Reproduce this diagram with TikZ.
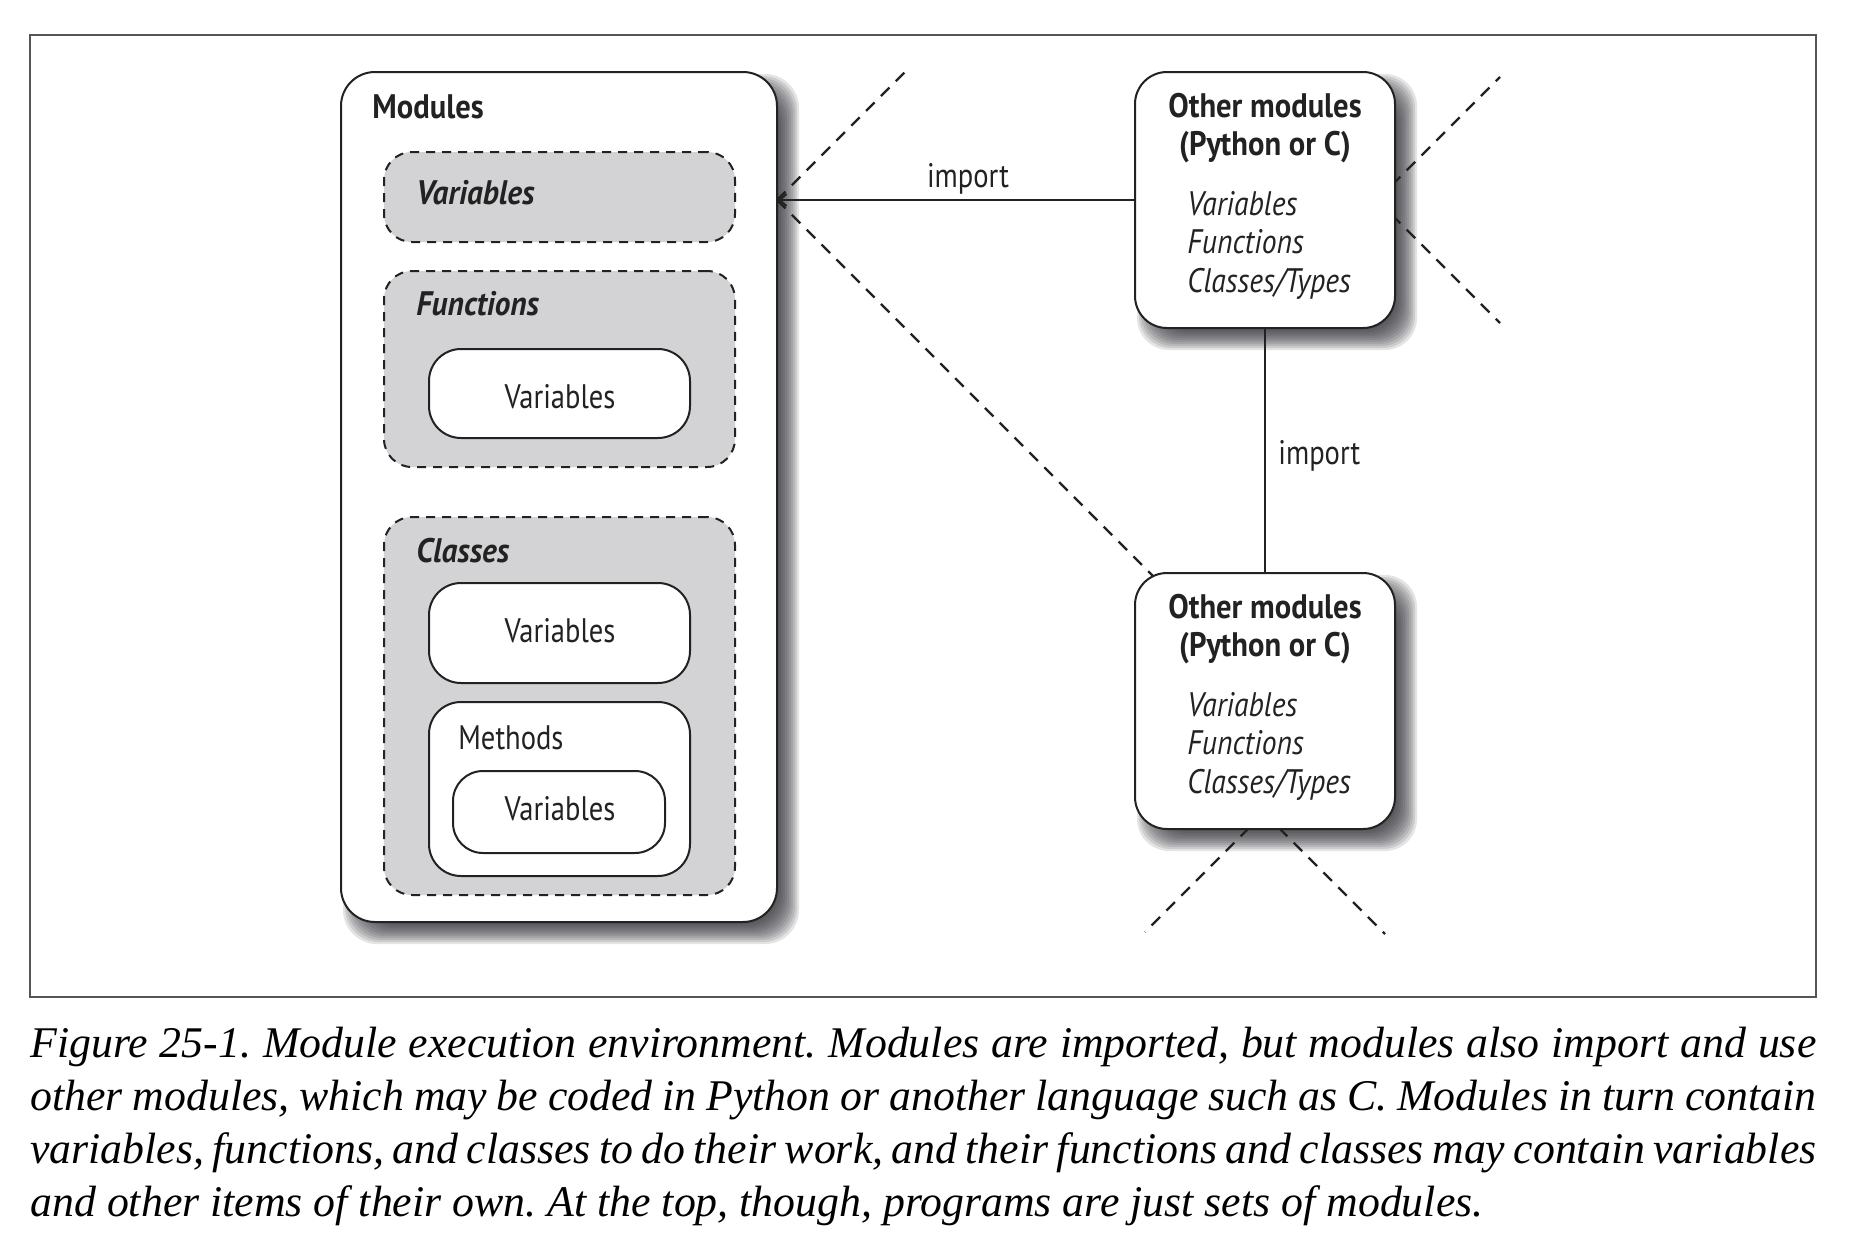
\documentclass[tikz,border=0pt]{standalone}
\usepackage{fontspec}
\setmainfont{PT Sans}[FakeStretch=0.84,
  ItalicFeatures={FakeStretch=0.87},
  BoldFeatures={FakeStretch=0.9},
  BoldItalicFeatures={FakeStretch=0.92}]
\newfontfamily\capfont{Liberation Serif}
\usetikzlibrary{arrows.meta,fit}
\definecolor{boxgray}{HTML}{D3D3D5}
\definecolor{framegray}{HTML}{555555}
\definecolor{shadowcol}{HTML}{303036}
\definecolor{inkc}{HTML}{222222}
\newcommand\myshadow[5]{%
  \foreach \e in {-10,-8,...,10}{%
    \fill[shadowcol, opacity=0.13, rounded corners=#5]
      ({#1+12+\e},{#2+12+\e}) rectangle ({#3+12-\e},{#4+12-\e});
  }}
\begin{document}
\frenchspacing
\begin{tikzpicture}[x=0.5pt,y=-0.5pt,
  solidbox/.style={draw=inkc, line width=1pt, fill=white, rounded corners=17pt, inner sep=0pt},
  innerbox/.style={draw=inkc, line width=1pt, fill=white, rounded corners=16pt, inner sep=0pt},
  dashbox/.style={draw=inkc, line width=1pt, fill=boxgray, dash pattern=on 4.5pt off 3.5pt, rounded corners=14pt, inner sep=0pt},
  guide/.style={draw=inkc, line width=1.1pt, dash pattern=on 6pt off 4.5pt},
  link/.style={draw=inkc, line width=1pt},
  tx/.style={inner sep=0pt, text=inkc, font=\fontsize{17}{20}\selectfont},
  txb/.style={inner sep=0pt, text=inkc, font=\fontsize{17}{20}\selectfont\bfseries},
  txbi/.style={inner sep=0pt, text=inkc, font=\fontsize{17}{20}\selectfont\bfseries\itshape},
  txi/.style={inner sep=0pt, text=inkc, font=\fontsize{17}{20}\selectfont\itshape},
  captx/.style={inner sep=0pt, anchor=base west, text=black, font=\capfont\itshape\fontsize{21.9}{26}\selectfont}
]
\useasboundingbox (0,0) rectangle (1858,1242);
\fill[white] (0,0) rectangle (1858,1242);
% frame
\node[draw=framegray, line width=0.75pt, inner sep=0pt, fit={(30,35) (1816,997)}] (frame) {};

% shadows
\myshadow{341}{72}{777}{922}{17pt}
\myshadow{1135}{72}{1395}{328}{16pt}
\myshadow{1135}{573}{1395}{829}{16pt}

% guide line anchor points
\coordinate (tipL) at (777,200);
\coordinate (gUL) at (905,72);
\coordinate (gLL) at (1200,623);
\coordinate (cR) at (1377,200);
\coordinate (gUR) at (1500,77);
\coordinate (gLR) at (1500,323);
\coordinate (cB) at (1264,813);
\coordinate (gBL) at (1145,932);
\coordinate (gBR) at (1385,934);
\draw[guide] (tipL) -- (gUL);
\draw[guide] (tipL) -- (gLL);
\draw[guide] (cR) -- (gUR);
\draw[guide] (cR) -- (gLR);
\draw[guide] (cB) -- (gBL);
\draw[guide] (cB) -- (gBR);

% Modules box
\node[solidbox, fit={(341,72) (777,922)}] (mod) {};
\node[txb, anchor=base west] (modt) at (372,118) {Modules};
\node[dashbox, fit={(384,152) (735,242)}] (varbox) {};
\node[txbi, anchor=base west] (vart) at (416,204) {Variables};
\node[dashbox, fit={(384,271) (735,467)}] (funbox) {};
\node[txbi, anchor=base west] (funt) at (416,315) {Functions};
\node[innerbox, fit={(429,349) (690,438)}] (funvar) {};
\node[tx, anchor=base] (funvart) at (560,408) {Variables};
\node[dashbox, fit={(384,517) (735,895)}] (clsbox) {};
\node[txbi, anchor=base west] (clst) at (416,562) {Classes};
\node[innerbox, fit={(429,583) (690,683)}] (clsvar) {};
\node[tx, anchor=base] (clsvart) at (560,642) {Variables};
\node[innerbox, fit={(429,702) (690,876)}] (meth) {};
\node[tx, anchor=base west] (metht) at (458,749) {Methods};
\node[innerbox, rounded corners=15pt, fit={(453,771) (665,853)}] (methvar) {};
\node[tx, anchor=base] (methvart) at (560,820) {Variables};

% Other modules (top)
\node[solidbox, rounded corners=16pt, fit={(1135,72) (1395,328)}] (om1) {};
\node[txb, anchor=base] (om1a) at (1265,117) {Other modules};
\node[txb, anchor=base] (om1b) at (1265,155) {(Python or C)};
\node[txi, anchor=base west] (om1c) at (1187,215) {Variables};
\node[txi, anchor=base west] (om1d) at (1187,253) {Functions};
\node[txi, anchor=base west] (om1e) at (1187,292) {Classes/Types};

% Other modules (bottom)
\node[solidbox, rounded corners=16pt, fit={(1135,573) (1395,829)}] (om2) {};
\node[txb, anchor=base] (om2a) at (1265,618) {Other modules};
\node[txb, anchor=base] (om2b) at (1265,656) {(Python or C)};
\node[txi, anchor=base west] (om2c) at (1187,716) {Variables};
\node[txi, anchor=base west] (om2d) at (1187,754) {Functions};
\node[txi, anchor=base west] (om2e) at (1187,793) {Classes/Types};

% connectors
\draw[link, -{Straight Barb[length=3.5pt,width=6pt]}] (om1.west) -- (om1.west -| mod.east);
\node[tx, anchor=base] (imp1) at (968,187) {import};
\draw[link] (om1.south) -- (om2.north);
\node[tx, anchor=base west] (imp2) at (1278,464) {import};

% caption
\node[captx] (cap1) at (30,1057) {\makebox[893pt][s]{Figure 25-1. Module execution environment. Modules are imported, but modules also import and use}};
\node[captx] (cap2) at (30,1110) {\makebox[893pt][s]{other modules, which may be coded in Python or another language such as C. Modules in turn contain}};
\node[captx] (cap3) at (30,1163) {\makebox[893pt][s]{variables, functions, and classes to do their work, and their functions and classes may contain variables}};
\node[captx] (cap4) at (30,1216) {and other items of their own. At the top, though, programs are just sets of modules.};
\end{tikzpicture}
\end{document}
